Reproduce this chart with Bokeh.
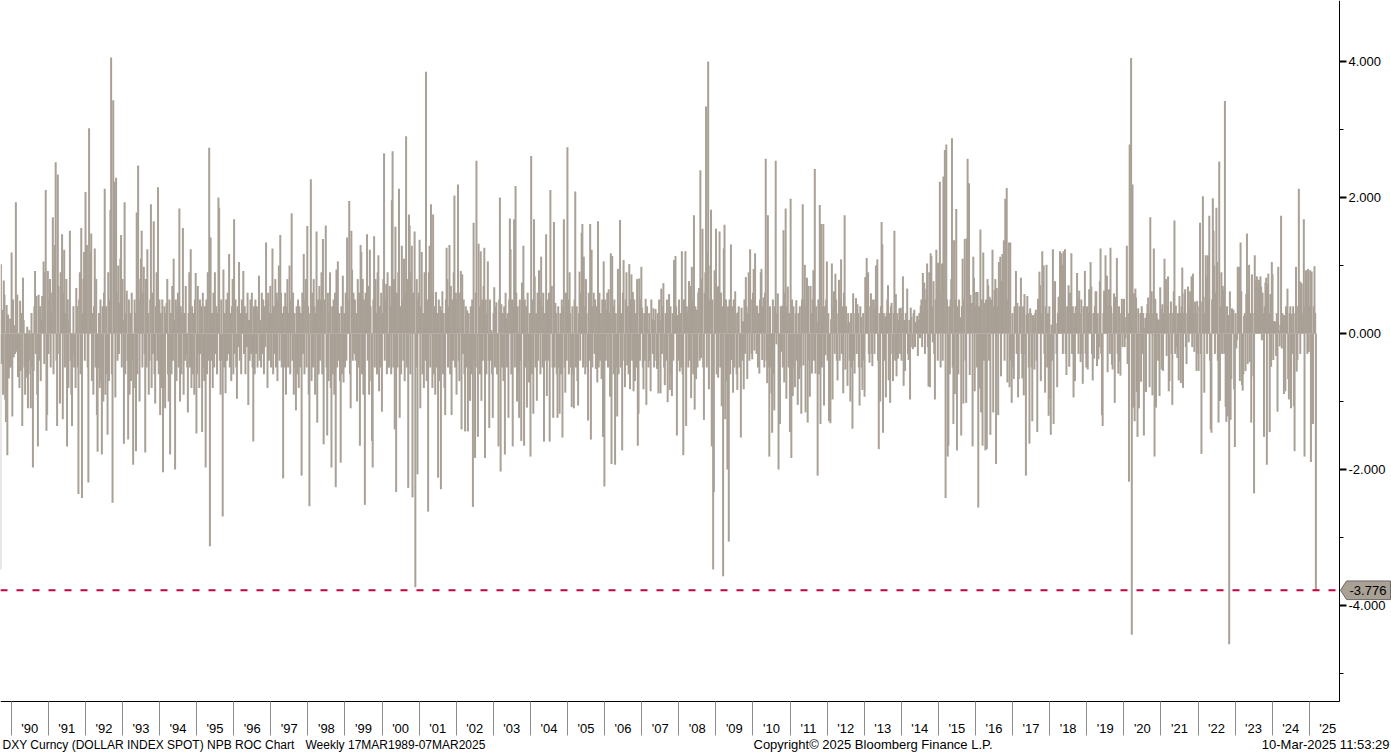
import pandas as pd
from bokeh.plotting import figure
from bokeh.models import ColumnDataSource, Range1d, FixedTicker, NumeralTickFormatter
from bokeh.core.properties import value
from bokeh.embed import file_html
from bokeh.resources import INLINE

# Weekly rate of change (%) of DXY (Friday closes)
roc_sep1989_nov1998 = [
    -3.47, 1.02, -0.45, 0.35, -0.9, 0.78, 0.57, -0.97, -1.3, 0.42,
    -1.79, 0.28, -0.66, -0.5, 0.22, -0.5, 1.19, -1.22, 0.5, -0.35,
    0.12, -0.3, 1.93, -0.27, 0.57, -0.64, -0.42, -0.8, 0.48, -0.55,
    0.3, -1.36, 0.82, 0.2, -0.5, -0.9, -0.3, -0.65, 0.1, -1.1,
    -0.6, 0.05, -0.4, -1.1, 0.3, -0.5, -1.97, -0.55, 0.4, 0.92,
    -0.3, 0.55, -0.9, -1.66, 0.57, -0.4, 0.4, -0.7, 0.2, 0.55,
    0.3, 1.06, -0.45, 0.9, 2.11, -1.43, -1.2, 0.92, -0.3, 0.5,
    0.8, -0.5, 0.3, 0.6, 1.71, -0.6, 1.0, 1.3, 2.52, -0.4,
    -1.36, 2.34, 0.7, -0.3, -1.03, 0.9, 0.4, 1.46, -1.26, 0.6,
    1.23, -0.5, 0.3, 0.8, -1.66, 0.5, -0.8, 0.2, 1.51, -0.4,
    -0.9, -1.36, -0.3, 0.4, -0.5, -0.2, -0.8, 0.67, 0.4, -0.5,
    -2.36, 0.5, 0.9, -0.6, 1.55, -2.42, 0.3, 0.8, 1.2, -0.4,
    2.08, 0.6, 1.3, -0.5, -2.19, 3.02, 1.0, 1.2, 1.47, -0.7,
    0.3, -0.9, 0.4, 1.25, -0.5, 0.8, -1.2, -1.74, -0.5, 0.3,
    -0.8, 0.5, -0.7, -1.78, 0.4, -1.0, 0.6, 2.13, -0.9, 0.4,
    -0.6, -1.49, 0.9, -0.7, 0.5, 1.82, 4.06, -0.6, -2.49, 3.43,
    1.5, 2.23, -0.94, 2.29, 0.6, -0.4, 1.0, -0.3, 0.45, 1.1,
    1.45, -0.5, 0.8, 0.2, -1.62, 1.93, -0.6, 0.3, 0.63, -0.4,
    -1.56, 0.5, -0.9, 0.3, -0.7, 0.6, -0.4, -1.93, -0.8, 0.5,
    0.3, -1.73, 1.78, -0.6, 2.47, 0.5, -1.0, 0.8, 1.1, 1.51,
    -0.5, 0.6, 0.98, -0.3, -1.75, 0.8, -0.5, 1.24, 0.3, -0.9,
    -0.4, 0.5, 1.90, -0.8, 0.6, -0.3, 1.65, -0.6, -1.03, 0.4,
    0.9, -0.4, 2.15, -0.6, 0.5, -1.2, 0.3, -0.8, 0.5, -2.04,
    -0.8, 0.4, -1.1, 0.3, 0.45, 0.8, -0.6, -1.0, 0.5, -1.78,
    0.3, -0.6, 0.7, -0.4, 1.10, 0.2, -2.0, 0.5, -0.7, 0.4,
    0.6, -0.5, 1.84, -1.0, 0.4, -0.6, 0.3, 1.55, -0.9, 0.3,
    -0.4, 0.7, -0.3, -0.5, -1.16, 0.3, 0.9, -0.5, 1.24, -0.8,
    0.4, -0.6, 0.3, -0.9, 0.5, 0.89, -1.47, -0.6, 0.7, -0.3,
    -0.8, 0.5, -0.3, 0.4, -1.45, 0.6, -0.5, -0.7, 0.4, -1.97,
    0.5, -0.6, 0.9, -0.4, 2.73, -3.13, 1.41, -0.4, 0.3, -0.8,
    0.6, -0.5, 0.9, -0.3, 0.4, -0.6, 0.3, 2.0, 1.85, -0.4,
    -0.9, 0.5, -0.4, -2.69, 0.94, -0.5, 0.3, -0.88, 0.5, -0.4,
    0.6, -0.3, 1.17, -0.5, 0.3, -0.7, 0.4, 0.8, -0.6, 1.68,
    -0.3, 0.5, -0.5, -0.96, 0.4, -0.2, 1.05, -0.4, 0.3, -0.6,
    0.5, 0.3, 0.92, -0.3, 0.4, -0.6, 0.3, -0.2, 0.6, -1.05,
    0.2, -0.4, 0.5, -0.3, 0.6, -0.5, -1.59, 0.4, -0.6, 0.5,
    -0.3, 0.4, -0.5, 0.3, 0.85, -0.4, 0.2, -0.5, 0.6, -0.3,
    0.5, -0.6, 0.4, -0.2, 1.34, 0.5, -0.8, 0.6, -0.4, 0.3,
    0.7, -0.5, 0.3, 1.25, -0.6, 0.4, -0.3, 0.8, -0.5, 0.6,
    -0.7, 0.5, 1.0, -0.4, 1.45, 0.6, -0.5, 0.3, -2.13, 0.4,
    -0.5, 0.6, -0.9, 0.4, 0.8, -0.5, 0.3, 1.0, -0.6, 0.5,
    1.77, -0.4, 0.6, -0.9, 0.3, -0.5, -1.13, 0.4, -0.6, 0.5,
    -0.8, 0.4, -0.5, 0.3, -2.09, 0.6, -0.3, 1.17, -0.6, 0.5,
    0.8, -0.5, 1.58, 0.4, -0.9, -2.54, 0.3, 2.27, -0.7, 0.6,
    -0.5, 0.8, 0.4, -0.9, 0.3, 1.50, -1.31, 0.5, -0.6, 0.7,
    -0.4, 0.5, 0.9, -0.6, 1.39, -1.63, 0.5, 0.3, 1.59, -0.5,
    -1.5, 0.6, -0.7, 0.3, 0.9, -0.8, -1.97, 0.4, -0.6, 0.5,
    -0.9, 0.6, -2.26, 0.94, -0.5, 1.06, -0.4, 0.3, -0.7,
]

roc_nov1998_nov2007 = [
    -1.90, 0.4, -0.6, 0.85, -0.72, 0.3, -0.5, 0.6, -0.4, 1.41,
    0.5, 0.3, 1.95, -0.6, -1.10, 1.51, 0.94, -0.4, 0.6, -0.3,
    0.5, -0.4, 0.3, -1.0, 0.8, -0.5, 0.6, -1.65, 1.30, 1.2,
    -0.6, 0.8, -0.9, 0.5, -2.52, 0.6, 0.3, 1.46, -0.4, 0.7,
    -0.9, 1.23, 0.4, -0.7, -1.58, -1.97, 0.5, 1.43, -0.5, 0.8,
    0.3, -0.6, 0.9, 1.15, -0.85, 0.4, -0.5, 0.6, -1.15, 0.3,
    0.8, 2.65, -0.4, 0.5, 0.73, -0.6, 0.9, -0.5, -0.5, 0.7,
    0.4, -0.6, 1.96, 2.68, -0.5, 0.8, -1.41, 1.57, -2.33, 0.6,
    -0.5, 0.9, 2.13, -1.24, 0.4, -0.6, 1.29, 0.5, -0.4, 1.1,
    -0.7, 0.6, 2.9, -0.5, 0.8, -2.27, 1.75, 1.59, -0.6, 0.9,
    1.29, -2.41, 0.6, 0.4, 1.50, -3.73, -0.5, 0.8, -2.07, 0.5,
    0.6, 1.38, -1.1, 0.4, 1.2, -0.6, 0.3, -0.8, 0.9, -0.4,
    3.85, -0.7, 0.5, -2.62, 0.9, 1.29, -0.5, 1.90, 0.6, -0.8,
    1.75, -0.6, 0.4, -0.9, 0.61, -0.5, 0.3, -2.12, 0.5, -0.7,
    0.4, -2.29, 0.34, 0.62, -0.6, 0.3, -0.8, -1.2, 0.5, 1.26,
    0.8, -0.5, 0.4, 1.3, -0.6, 0.7, -1.2, 0.5, -0.4, 0.9,
    2.03, -0.5, 0.6, -0.9, 0.5, 2.19, -0.4, -0.7, 0.6, 0.92,
    -1.41, 0.87, -0.3, 0.5, -0.6, -1.44, 0.4, -0.5, 0.34, -1.44,
    0.3, -0.5, -0.99, 0.4, -0.6, 0.5, -2.55, 1.63, -0.4, -1.83,
    0.6, 2.54, -0.5, -1.52, 1.32, 0.4, -0.6, 1.21, -0.99, 0.5,
    -0.4, 0.7, 1.26, -1.83, 0.5, -0.6, 0.3, 1.06, -0.4, -1.39,
    0.5, -0.4, 0.05, -0.6, -1.24, 0.3, 0.68, -0.5, 0.4, 0.46,
    -0.6, -0.3, -1.66, 0.5, 2.0, -2.03, 0.43, -0.5, 0.3, -0.7,
    0.4, -1.78, 0.6, 0.23, -0.5, 0.3, -1.24, 0.5, 1.69, 1.24,
    -0.6, 0.5, -1.66, 0.4, 1.68, -0.5, 2.17, 0.6, -1.0, 0.4,
    -0.6, -1.24, 0.5, -0.4, -1.58, 0.75, 0.3, 1.29, -1.65, 0.5,
    -0.5, 0.4, -1.09, 0.6, -0.4, -0.72, 0.3, -1.81, 2.61, -0.6,
    0.5, -1.18, 1.68, 0.84, -0.5, 0.3, -0.99, 0.6, -0.4, 0.93,
    0.5, -0.6, 1.13, 0.4, -0.5, 0.6, -1.59, 0.3, -0.4, 1.46,
    -0.92, 0.5, -0.4, 0.6, -1.59, 2.11, 0.4, 0.7, -0.5, -1.24,
    1.64, -0.5, 0.45, 0.3, -0.6, -1.24, 0.4, -0.5, -1.18, 0.3,
    -0.6, 0.5, -1.53, 0.4, 1.68, -0.5, -0.87, 0.6, -0.4, 2.74,
    0.5, -0.6, 0.90, 0.3, -0.5, -1.08, 0.4, -0.6, -1.10, 0.5,
    2.09, -0.5, 0.4, -0.7, -1.06, 0.3, 0.91, -0.4, 0.6, 1.48,
    1.61, -0.5, 1.13, 0.4, -0.6, 0.80, 0.3, -0.5, -1.28, 0.6,
    -0.4, 1.61, -1.56, 1.23, -0.5, 0.4, 0.6, -0.3, 0.5, -0.52,
    0.4, -0.72, 1.65, -0.5, 0.6, -0.4, 0.3, -0.67, 0.5, -1.52,
    1.06, -2.25, 0.5, -0.4, 0.35, 0.6, -0.5, 0.65, 0.3, -0.93,
    1.18, -1.92, 1.14, 0.4, -0.6, 0.5, -1.93, 0.3, -0.5, -1.22,
    0.95, -0.6, 0.4, 1.67, -0.5, 0.3, -1.72, 0.6, 1.08, -0.4,
    -0.79, 0.5, 0.90, -0.47, 0.4, -0.6, 1.02, -0.82, 0.5, 0.87,
    -0.4, 0.61, -0.85, 0.5, -0.70, 0.3, -0.5, 0.80, -1.65, -1.18,
    0.81, -0.4, 0.5, 0.98, 0.38, -0.5, -0.82, 0.3, -0.4, 0.51,
    -1.05, 0.4, 0.06, -0.5, 0.3, -0.4, -0.85, 0.5, 0.21, -0.3,
    0.37, -0.5, 0.2, 0.36, -0.4, -0.52, 0.3, -0.88, 0.5, 0.2,
    -0.88, 0.66, -0.3, 0.4, 0.74, -0.5, -0.76, 0.3, -0.4, 0.5,
    -1.01, 0.3, 0.58, -0.83, 0.4, -0.6, -0.92, 0.3, -0.4, 1.08,
    0.5,
]

roc_nov2007_nov2016 = [
    1.14, 0.4, -1.50, 0.27, -0.4, 0.5, -0.56, 0.3, -0.5, 1.21,
    -0.6, -1.79, 0.5, 0.3, 1.21, -1.36, 0.4, 0.32, -0.5, 0.77,
    -0.4, 0.70, -0.95, 0.98, 0.5, -0.6, 1.74, -1.12, 0.4, -0.67,
    0.35, -0.5, 0.6, 0.67, -0.4, 2.4, -0.36, 0.8, 1.54, -0.5,
    -1.27, 0.6, 0.9, 3.34, -0.5, 1.2, 4.0, -0.82, 0.5, 1.0,
    1.82, -1.66, 0.5, -3.47, -2.33, 0.93, 0.4, 1.54, -0.6, 0.69,
    -0.65, 0.70, 1.5, -0.5, 0.6, -1.07, 0.4, -3.57, 1.25, 1.6,
    -1.26, 0.5, -0.7, -2.0, 0.4, -3.06, 0.5, -0.6, 1.31, -0.39,
    0.4, -0.87, 0.5, -0.5, 0.62, 0.3, -0.6, -0.83, 0.31, 0.4,
    -0.5, -0.3, -1.53, 0.38, -0.4, 0.18, -0.82, 0.5, -0.3, 0.83,
    0.4, -0.67, 0.3, 0.90, -0.4, 1.24, 0.5, -0.3, -0.38, 0.6,
    0.95, -0.25, 1.18, 0.4, -0.3, 0.41, -0.5, 0.3, -0.59, 0.5,
    0.90, 0.95, -0.39, 0.4, 0.53, -0.5, 0.6, 2.57, -0.4, -0.73,
    1.74, -0.5, -1.81, 0.4, -0.5, -0.88, -1.46, 0.5, -0.6, -1.13,
    0.4, 2.54, -0.16, 0.3, 0.59, -2.0, -0.5, -1.33, 0.4, -0.27,
    0.41, -0.5, 1.52, -0.72, 0.6, 1.84, -0.96, 0.4, 0.69, -0.5,
    0.30, -1.45, 1.98, -1.83, 0.5, -0.92, 0.40, -0.5, -0.79, 0.3,
    0.49, -0.4, -1.05, 0.3, -0.67, 0.4, -0.5, -1.18, 0.5, 1.90,
    -0.47, 0.5, 1.01, -1.16, 0.4, 0.82, -1.31, 0.70, -0.4, -0.93,
    0.70, 0.3, -0.59, 0.5, 0.93, -0.4, 2.42, -0.59, 0.4, 0.17,
    -2.09, 0.5, -0.6, 1.89, -1.33, 1.61, -0.5, 0.4, 1.61, -1.06,
    0.4, -0.32, 0.5, 1.06, -0.4, 0.3, -1.29, -0.5, -1.32, 0.21,
    1.03, -0.97, 0.4, 0.62, -0.3, 0.88, 0.5, -0.4, -0.69, 0.3,
    0.79, -0.4, 0.5, 1.09, -0.3, 0.4, -0.88, 0.6, 1.74, -0.53,
    0.4, 0.13, -0.77, 0.3, 0.17, -0.4, -1.0, 0.3, -0.5, -1.40,
    0.59, -0.4, -0.59, 0.3, 0.52, -0.3, 0.43, 0.3, -0.5, -1.06,
    0.4, 0.24, -0.5, -0.83, 0.3, -0.4, -0.93, 0.83, 0.4, 1.11,
    0.5, 0.9, -0.3, -0.43, 0.4, 0.59, -0.3, -0.48, 0.5, 0.37,
    -0.3, 0.5, 1.0, 0.4, 1.09, -0.4, -1.70, 0.3, -1.0, 0.4,
    1.64, 1.31, -1.46, 0.3, -0.4, 0.25, -0.94, 0.3, 0.5, 0.71,
    -0.69, 0.3, -1.02, 0.4, 0.45, -0.3, -0.70, 0.3, 1.51, -0.4,
    0.58, -0.63, 0.3, -0.37, 0.2, 0.37, -0.3, 0.38, -0.40, 0.3,
    0.84, -0.77, 0.2, -0.55, 0.3, 0.10, 0.66, -0.3, -0.39, 0.2,
    -0.97, 0.38, 0.25, -0.2, -0.23, 0.3, 0.35, -0.2, 0.17, 0.1,
    0.26, -0.33, 0.2, 0.30, -0.07, 0.41, 0.50, -0.2, 0.89, 0.3,
    0.75, -0.3, 0.50, 0.66, 1.03, -0.2, -0.78, 0.90, -0.79, 1.18,
    1.14, 0.4, -0.13, 0.77, -0.3, -0.97, 0.5, 1.23, 1.04, -0.4,
    1.04, 0.5, 2.23, -0.5, 0.6, 1.03, -0.4, 2.31, 0.7, 2.70,
    -2.42, 2.78, 0.5, -1.81, -1.65, 0.4, -0.60, 0.5, 0.8, 2.87,
    -0.5, -1.33, 1.37, -0.89, 0.5, 1.83, -1.72, 0.4, -0.6, 0.5,
    0.22, 0.24, -1.50, 0.4, 1.10, -1.03, 0.5, 1.39, -0.4, -1.02,
    1.40, 2.57, 0.4, 2.21, -0.61, 0.57, 0.3, 0.45, -1.66, 1.13,
    0.82, -0.85, 0.4, 0.61, -0.5, 0.61, -2.56, 0.4, -0.81, 1.53,
    -1.16, 0.5, -1.65, 1.19, -0.4, 0.45, -1.72, 0.5, -1.70, 0.80,
    0.71, -0.4, 0.54, -1.49, 0.5, 0.3, 1.23, -1.16, 0.4, 0.64,
    0.80, -1.92, 0.67, 0.4, -1.20, 1.05, 0.4, 1.13, -0.63, 0.77,
    1.17, 0.5, 1.37, -0.4, 1.98, 0.6, 2.14, -0.72, 0.5, 1.34,
]

roc_dec2016_mar2025 = [
    -0.79, 1.34, -0.4, -1.02, 0.3, -0.5, -0.67, 0.4, 0.3, 0.92,
    -0.3, 0.45, -0.94, -0.67, 0.4, 0.3, 0.82, -0.3, -0.66, 0.4,
    -0.91, 0.58, -0.3, -2.09, 0.28, 0.55, 0.3, -0.5, -1.62, 0.37,
    0.3, -0.5, -1.29, 0.27, 0.2, -0.53, 0.3, 0.35, -0.4, -1.45,
    0.51, 0.3, 0.91, 0.71, -0.70, 0.3, 1.21, 0.4, 1.0, -0.3,
    -0.87, 0.4, 1.01, -0.5, 0.3, -1.21, 0.4, -0.96, -1.49, 0.13,
    -0.4, 1.24, -1.33, 0.5, 0.77, 0.15, -0.3, -0.79, 0.3, 0.54,
    0.4, 1.21, 0.3, 1.18, 1.01, -0.3, 1.21, 0.5, 1.24, -0.3,
    -0.61, 0.4, 0.3, 0.71, -0.49, 0.6, 0.4, 1.18, -0.3, 0.4,
    -0.94, 0.3, -0.70, 0.4, 0.3, 0.89, 0.51, -0.3, 0.63, 0.3,
    -0.42, 0.50, -0.3, -0.74, 0.4, 0.3, 0.92, -0.3, -0.50, 0.4,
    -0.53, 0.3, 0.65, 0.4, 1.05, 0.69, -0.3, -0.69, 0.3, -0.37,
    0.4, 0.62, 0.62, -0.48, 0.3, -0.38, -0.2, 0.77, 1.25, -0.3,
    -1.2, -1.36, 0.3, 0.63, 0.4, 1.15, 0.3, 0.85, -0.57, 0.4,
    0.65, -0.3, 1.26, 0.4, -0.46, -0.53, 0.3, 0.59, -1.02, 0.54,
    0.3, 1.11, -0.3, -0.59, 0.4, -0.41, -0.62, 0.3, 0.51, -0.2,
    0.4, 0.51, -0.2, -0.07, 0.24, 1.29, -0.45, 0.3, -2.18, 2.78,
    0.6, 4.05, -4.43, 2.19, -1.09, 0.59, -1.29, 0.66, 0.53, -0.86,
    -1.52, 0.37, -1.1, -0.02, 0.3, -0.71, 0.4, -0.3, 0.3, -1.50,
    0.08, 0.23, -0.86, 0.3, 0.43, 0.53, 0.3, -0.79, 1.71, 0.4,
    0.62, -0.91, 0.3, 1.25, -1.81, 0.51, -1.09, 0.3, 0.22, -0.4,
    0.20, -0.92, 0.68, 0.36, -0.53, 0.43, -0.55, 0.3, 1.10, 0.4,
    0.80, -0.33, 0.4, 0.84, -0.85, -0.70, 0.3, 0.47, -0.3, -1.05,
    0.3, 0.62, 1.66, -0.30, 0.41, -0.2, -0.36, 0.3, -0.69, 0.55,
    0.3, -0.73, 0.4, 0.97, -0.80, 0.3, 0.59, 0.65, -0.2, -0.45,
    0.3, 0.69, -0.13, 0.4, 0.62, 0.3, 0.84, -0.2, 0.88, 0.3,
    -0.27, 0.47, 0.3, -0.55, 0.48, -0.3, -0.55, 0.4, 1.63, -0.3,
    -1.77, 0.47, 2.02, 0.54, -0.87, 0.3, 1.15, 0.84, -0.3, 1.15,
    0.5, 1.73, -0.4, -1.41, -1.46, 0.5, 1.99, 1.51, 1.0, -0.3,
    0.6, 1.85, 1.05, -0.4, -1.31, 2.53, -0.99, 0.4, 0.90, -0.3,
    0.70, 0.64, -0.3, 3.42, -1.08, -1.3, 0.4, -1.22, 0.27, -4.57,
    0.62, -1.27, -0.67, 0.37, 0.05, 0.35, -0.82, -1.67, 0.3, -0.22,
    -0.1, 0.98, 0.4, 0.98, -0.70, 1.34, 0.62, -0.76, -0.84, -0.60,
    0.26, 0.3, -0.55, 0.58, 1.47, -0.45, 0.64, 1.01, -0.42, 0.3,
    -1.31, 0.87, 0.3, -0.63, -2.35, 1.15, 0.4, 0.79, 0.84, 0.3,
    0.68, 0.79, 0.3, 0.84, 0.69, -0.10, 0.60, 0.3, -1.52, 0.4,
    0.75, 0.82, -1.93, 0.73, 0.88, 0.3, -1.45, 0.58, -0.49, 1.05,
    0.87, -0.39, 0.18, 0.18, 0.17, -0.33, 0.3, -1.15, 0.98, 0.04,
    -0.19, 0.13, 1.73, -0.22, 0.3, 0.27, -0.89, 0.27, -0.85, 0.4,
    0.27, 0.66, -0.67, -0.97, 0.30, 0.4, -1.10, 0.29, -0.3, 0.4,
    -1.07, -1.73, 0.3, 0.98, -0.56, -0.39, 0.4, 2.13, 0.77, -0.3,
    0.75, 0.73, 0.24, 0.3, 1.68, -1.81, 0.4, 0.93, 0.81, -0.3,
    0.95, -0.27, 0.4, 0.93, -1.89, 0.91, -1.33, -1.33, 0.4, 0.99,
    0.3, -3.776,
]

last_value = -3.776
last_label = "-3.776"
year_labels = ["'" + str(y)[2:] for y in range(1990, 2026)]
axis_ticks = [-4, -2, 0, 2, 4]
axis_minor_ticks = [-5, -3, -1, 1, 3]
footer_left = "DXY Curncy (DOLLAR INDEX SPOT) NPB ROC Chart"
footer_range = "Weekly 17MAR1989-07MAR2025"
footer_center = "Copyright\u00a9 2025 Bloomberg Finance L.P."
footer_right = "10-Mar-2025 11:53:29"

roc = roc_sep1989_nov1998 + roc_nov1998_nov2007 + roc_nov2007_nov2016 + roc_dec2016_mar2025
dates = pd.date_range(end="2025-03-07", periods=len(roc), freq="7D")
src = ColumnDataSource(dict(date=dates, roc=roc))

BAR = "#A9A096"
RED = "#C8003C"
FONT = "Liberation Sans"
FS = "13px"
W, H = 1391, 753


def ms(ts):
    return int(pd.Timestamp(ts).value // 10**6)


# page layout (pixels) -> data coordinates
MS_PER_PX = (ms("2025-01-01") - ms("1990-01-01")) / 1298.1
X0 = ms("1990-01-01") - 10.7 * MS_PER_PX
ZERO_PX, PX_PER_UNIT = 333.0, 68.0


def px_x(px):
    return X0 + px * MS_PER_PX


def px_y(py):
    return (ZERO_PX - py) / PX_PER_UNIT


axis_x = px_x(1339)       # right value axis
axis_y = px_y(701)        # bottom date axis
year_starts = [ms(f"{y}-01-01") for y in range(1990, 2026)]
year_mids = [ms(f"{y}-07-02") for y in range(1990, 2026)]

p = figure(width=W, height=H, output_backend="svg", toolbar_location=None,
           x_axis_type="datetime", y_axis_location="right",
           x_range=Range1d(px_x(0), px_x(W)), y_range=Range1d(px_y(H), px_y(0)),
           min_border_left=0, min_border_top=0, min_border_right=0, min_border_bottom=0)
p.outline_line_color = None
p.grid.visible = False
p.background_fill_color = "white"
p.border_fill_color = "white"

p.vbar(x="date", top="roc", bottom=0, width=2 * MS_PER_PX, source=src,
       fill_color=BAR, line_color=None)

# last value line
p.line(x=[px_x(0), axis_x], y=[last_value, last_value], line_color=RED,
       line_width=2, line_dash="7 9")

# right value axis, drawn at the right edge of the chart area
ya = p.yaxis[0]
ya.fixed_location = axis_x
ya.bounds = (axis_y, px_y(0))
ya.ticker = FixedTicker(ticks=axis_ticks, minor_ticks=axis_minor_ticks)
ya.formatter = NumeralTickFormatter(format="0.000")
ya.axis_line_color = "black"
ya.major_tick_line_color = "black"
ya.major_tick_line_width = 2
ya.major_tick_out = 7
ya.major_tick_in = 0
ya.minor_tick_line_color = "black"
ya.minor_tick_out = 4
ya.minor_tick_in = 0
ya.major_label_standoff = 2
ya.major_label_text_font = FONT
ya.major_label_text_font_size = FS
ya.major_label_text_color = "black"

# bottom date axis: year separators as minor ticks, labels centred in each year
xa = p.xaxis[0]
xa.fixed_location = axis_y
xa.bounds = (px_x(0), axis_x)
xa.ticker = FixedTicker(ticks=year_mids, minor_ticks=year_starts)
xa.major_label_overrides = {m: lab for m, lab in zip(year_mids, year_labels)}
xa.axis_line_color = "black"
xa.major_tick_line_color = None
xa.major_tick_out = 0
xa.major_tick_in = 0
xa.minor_tick_line_color = "#8C8C8C"
xa.minor_tick_out = 34
xa.minor_tick_in = 0
xa.major_label_standoff = -15
xa.major_label_text_font = FONT
xa.major_label_text_font_size = FS
xa.major_label_text_color = "black"

# last value call-out on the axis
h = 9.3 / PX_PER_UNIT
p.patch(x=[px_x(1340), px_x(1346), px_x(1390), px_x(1390), px_x(1346)],
        y=[last_value, last_value + h, last_value + h, last_value - h, last_value - h],
        fill_color=BAR, line_color="#6E6A66", line_width=1)
p.text(x=[px_x(1349)], y=[last_value], text=[last_label], text_align="left",
       text_baseline="middle", text_font=value(FONT), text_font_size=value(FS),
       text_color="black")

# footer line
fy = px_y(744)
p.text(x=[px_x(2), px_x(305)], y=[fy, fy],
       text=[footer_left, footer_range], text_align="left",
       text_baseline="middle", text_font=value(FONT), text_font_size=value("12px"),
       text_color="black")
p.text(x=[px_x(753)], y=[fy], text=[footer_center], text_align="left",
       text_baseline="middle", text_font=value(FONT), text_font_size=value(FS),
       text_color="black")
p.text(x=[px_x(1389)], y=[fy], text=[footer_right], text_align="right",
       text_baseline="middle", text_font=value(FONT), text_font_size=value(FS),
       text_color="black")

open("out.html", "w").write(file_html(p, INLINE))
